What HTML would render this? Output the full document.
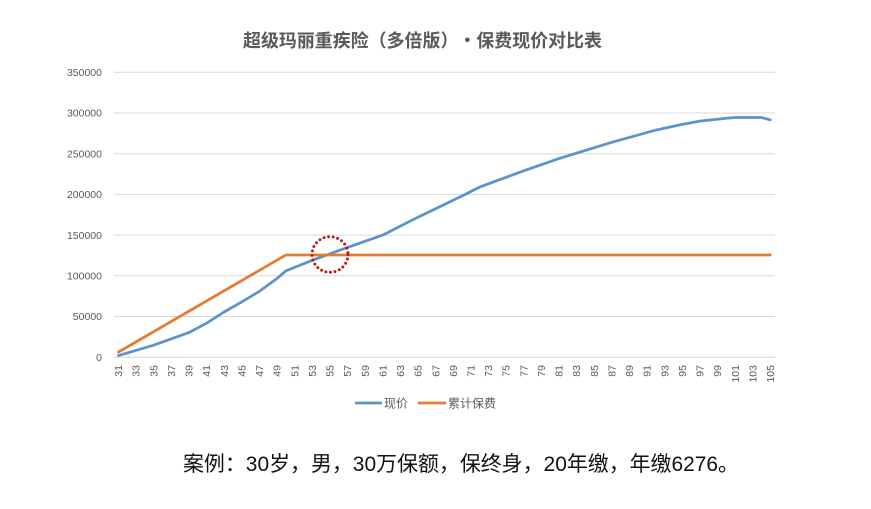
<!DOCTYPE html>
<html>
<head>
<meta charset="utf-8">
<style>
html,body{margin:0;padding:0;background:#fff;}
svg{display:block;}
</style>
</head>
<body>
<svg width="871" height="509" viewBox="0 0 871 509" xmlns="http://www.w3.org/2000/svg">
<rect x="0" y="0" width="871" height="509" fill="#fff"/>
<!-- title -->
<text x="243" y="47" font-family="'Noto Sans CJK SC','Liberation Sans',sans-serif" font-size="18" font-weight="bold" fill="#595959" textLength="359" lengthAdjust="spacingAndGlyphs">超级玛丽重疾险（多倍版）•保费现价对比表</text>

<!-- gridlines -->
<g stroke="#d9d9d9" stroke-width="1">
<line x1="114" y1="72.3" x2="775" y2="72.3"/>
<line x1="114" y1="113" x2="775" y2="113"/>
<line x1="114" y1="153.7" x2="775" y2="153.7"/>
<line x1="114" y1="194.4" x2="775" y2="194.4"/>
<line x1="114" y1="235.1" x2="775" y2="235.1"/>
<line x1="114" y1="275.8" x2="775" y2="275.8"/>
<line x1="114" y1="316.5" x2="775" y2="316.5"/>
<line x1="114" y1="357.2" x2="775" y2="357.2"/>
</g>

<!-- y labels -->
<g font-family="'Liberation Sans',sans-serif" font-size="10.5" fill="#595959" text-anchor="end">
<text x="102" y="76">350000</text>
<text x="102" y="116.7">300000</text>
<text x="102" y="157.4">250000</text>
<text x="102" y="198.1">200000</text>
<text x="102" y="238.8">150000</text>
<text x="102" y="279.5">100000</text>
<text x="102" y="320.2">50000</text>
<text x="102" y="360.9">0</text>
</g>

<!-- x labels -->
<g font-family="'Liberation Sans',sans-serif" font-size="10.5" fill="#595959" text-anchor="end">
<text transform="translate(118.4,365) rotate(-90)" dy="0.35em">31</text>
<text transform="translate(136.0,365) rotate(-90)" dy="0.35em">33</text>
<text transform="translate(153.6,365) rotate(-90)" dy="0.35em">35</text>
<text transform="translate(171.3,365) rotate(-90)" dy="0.35em">37</text>
<text transform="translate(188.9,365) rotate(-90)" dy="0.35em">39</text>
<text transform="translate(206.5,365) rotate(-90)" dy="0.35em">41</text>
<text transform="translate(224.1,365) rotate(-90)" dy="0.35em">43</text>
<text transform="translate(241.7,365) rotate(-90)" dy="0.35em">45</text>
<text transform="translate(259.4,365) rotate(-90)" dy="0.35em">47</text>
<text transform="translate(277.0,365) rotate(-90)" dy="0.35em">49</text>
<text transform="translate(294.6,365) rotate(-90)" dy="0.35em">51</text>
<text transform="translate(312.2,365) rotate(-90)" dy="0.35em">53</text>
<text transform="translate(329.8,365) rotate(-90)" dy="0.35em">55</text>
<text transform="translate(347.5,365) rotate(-90)" dy="0.35em">57</text>
<text transform="translate(365.1,365) rotate(-90)" dy="0.35em">59</text>
<text transform="translate(382.7,365) rotate(-90)" dy="0.35em">61</text>
<text transform="translate(400.3,365) rotate(-90)" dy="0.35em">63</text>
<text transform="translate(417.9,365) rotate(-90)" dy="0.35em">65</text>
<text transform="translate(435.6,365) rotate(-90)" dy="0.35em">67</text>
<text transform="translate(453.2,365) rotate(-90)" dy="0.35em">69</text>
<text transform="translate(470.8,365) rotate(-90)" dy="0.35em">71</text>
<text transform="translate(488.4,365) rotate(-90)" dy="0.35em">73</text>
<text transform="translate(506.0,365) rotate(-90)" dy="0.35em">75</text>
<text transform="translate(523.7,365) rotate(-90)" dy="0.35em">77</text>
<text transform="translate(541.3,365) rotate(-90)" dy="0.35em">79</text>
<text transform="translate(558.9,365) rotate(-90)" dy="0.35em">81</text>
<text transform="translate(576.5,365) rotate(-90)" dy="0.35em">83</text>
<text transform="translate(594.1,365) rotate(-90)" dy="0.35em">85</text>
<text transform="translate(611.8,365) rotate(-90)" dy="0.35em">87</text>
<text transform="translate(629.4,365) rotate(-90)" dy="0.35em">89</text>
<text transform="translate(647.0,365) rotate(-90)" dy="0.35em">91</text>
<text transform="translate(664.6,365) rotate(-90)" dy="0.35em">93</text>
<text transform="translate(682.2,365) rotate(-90)" dy="0.35em">95</text>
<text transform="translate(699.9,365) rotate(-90)" dy="0.35em">97</text>
<text transform="translate(717.5,365) rotate(-90)" dy="0.35em">99</text>
<text transform="translate(735.1,365) rotate(-90)" dy="0.35em">101</text>
<text transform="translate(752.7,365) rotate(-90)" dy="0.35em">103</text>
<text transform="translate(770.3,365) rotate(-90)" dy="0.35em">105</text>
</g>

<!-- series: cash value (blue) -->
<polyline fill="none" stroke="#5b93cc" stroke-width="2.75" stroke-linejoin="round" stroke-linecap="round"
points="118.4,355.6 153.6,345.2 188.9,332.6 206.5,323.2 224.1,312.0 241.7,301.9 259.4,291.3 277.0,278.5 285.8,270.9 312.2,260.3 338.7,250.6 382.7,235.1 417.9,217.2 462.0,196.0 479.6,187.1 523.7,170.8 558.9,158.6 611.8,142.3 655.8,130.1 682.2,124.4 699.9,121.1 726.3,118.3 735.1,117.5 761.5,117.5 770.3,119.9"/>

<!-- series: cumulative premium (orange) -->
<polyline fill="none" stroke="#e47c34" stroke-width="2.75" stroke-linejoin="round" stroke-linecap="round"
points="118.4,352.1 285.8,255.0 770.3,255.0"/>

<!-- red dotted circle -->
<ellipse cx="330" cy="254.5" rx="18" ry="17.8" fill="none" stroke="#b81c1c" stroke-width="3" stroke-dasharray="0 4.6" stroke-linecap="round"/>

<!-- legend -->
<line x1="355" y1="403" x2="382" y2="403" stroke="#5b93cc" stroke-width="2.75"/>
<text x="384" y="407.5" font-family="'Liberation Sans','Noto Sans CJK SC',sans-serif" font-size="12" fill="#595959">现价</text>
<line x1="418" y1="403" x2="446" y2="403" stroke="#e47c34" stroke-width="2.75"/>
<text x="448" y="407.5" font-family="'Liberation Sans','Noto Sans CJK SC',sans-serif" font-size="12" fill="#595959">累计保费</text>

<!-- caption -->
<text x="183" y="471" font-family="'Liberation Sans','Noto Sans CJK SC',sans-serif" font-size="21" fill="#111" textLength="556" lengthAdjust="spacingAndGlyphs">案例：30岁，男，30万保额，保终身，20年缴，年缴6276。</text>
</svg>
</body>
</html>
